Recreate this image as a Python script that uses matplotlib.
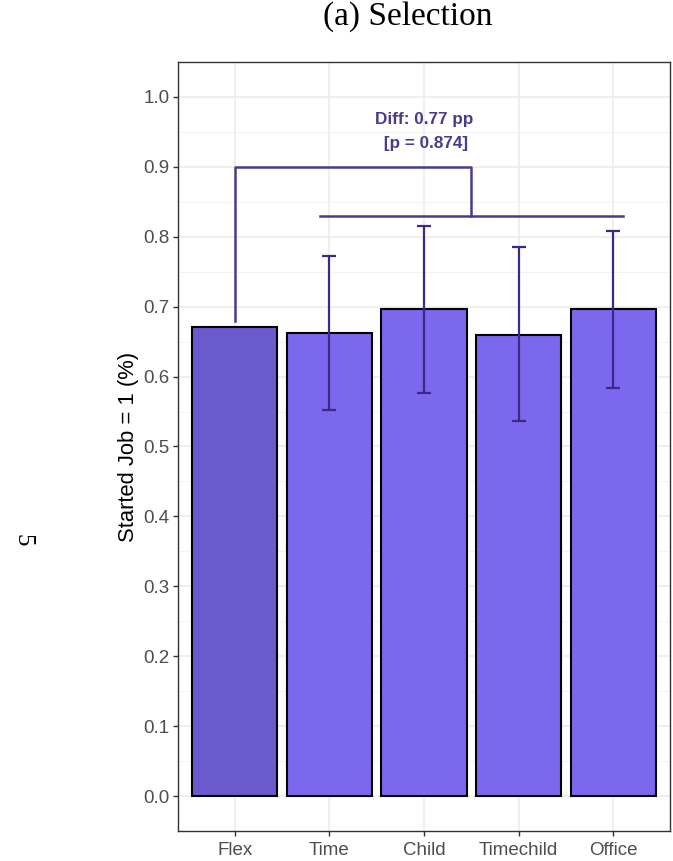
import matplotlib.pyplot as plt
from matplotlib.ticker import MultipleLocator
import numpy as np

groups = ["Flex", "Time", "Child", "Timechild", "Office"]
started = [0.671, 0.662, 0.697, 0.660, 0.697]
ci_low = [None, 0.552, 0.577, 0.536, 0.584]
ci_high = [None, 0.773, 0.815, 0.785, 0.808]
bar_colors = ["#6A5ACD", "#7B68EE", "#7B68EE", "#7B68EE", "#7B68EE"]

diff_pp = 0.77
p_value = 0.874

plt.rcParams["font.family"] = ["Liberation Sans", "DejaVu Sans"]

fig = plt.figure(figsize=(6.73, 8.61), dpi=100)
ax = fig.add_axes([178 / 673, 30 / 861, 492 / 673, 769 / 861])

x = np.arange(1, len(groups) + 1)
ax.bar(x, started, width=0.9, color=bar_colors, edgecolor="black",
       linewidth=1.5, zorder=3)

# confidence intervals for the treatment arms only
for xi, lo, hi, v in zip(x, ci_low, ci_high, started):
    if lo is None:
        continue
    ax.errorbar(xi, v, yerr=[[v - lo], [hi - v]], fmt="none",
                ecolor="#3A2A86", elinewidth=1.6, capsize=5, capthick=1.6,
                zorder=4)

# comparison bracket: Flex vs pooled treatments
br = "#483D8B"
top, low = 0.90, 0.83
ax.plot([1, 1, 3.5, 3.5], [started[0] + 0.009, top, top, low], color=br,
        lw=1.8, zorder=5)
ax.plot([1.9, 5.1], [low, low], color=br, lw=1.8, zorder=5)
ax.text(3.0, 0.95, f"Diff: {diff_pp:.2f} pp\n [p = {p_value:.3f}]",
        ha="center", va="center", color=br, fontsize=12.3, fontweight="bold",
        linespacing=1.75, zorder=6)

ax.set_xlim(0.4, 5.6)
ax.set_ylim(-0.05, 1.05)
ax.set_xticks(x)
ax.set_xticklabels(groups)
ax.yaxis.set_major_locator(MultipleLocator(0.1))
ax.yaxis.set_minor_locator(MultipleLocator(0.05))
ax.set_yticklabels([f"{v:.1f}" for v in ax.get_yticks()])
ax.set_ylim(-0.05, 1.05)

ax.grid(True, which="major", color="#EBEBEB", lw=1.1, zorder=0)
ax.grid(True, which="minor", axis="y", color="#F2F2F2", lw=0.7, zorder=0)
ax.tick_params(which="major", length=3.5, width=1, color="#333333",
               labelcolor="#4D4D4D", labelsize=13.5, pad=2.5)
ax.tick_params(axis="x", pad=4.5)
ax.tick_params(which="minor", length=0)
for s in ax.spines.values():
    s.set_color("#333333")
    s.set_linewidth(1)

ax.set_ylabel("Started Job = 1 (%)", fontsize=15.8, labelpad=3)

fig.text(408 / 673, 1 - 17 / 861, "(a) Selection", ha="center", va="center",
         fontsize=24, family="Liberation Serif")
fig.text(22 / 673, 1 - 540 / 861, "5", ha="center", va="center",
         fontsize=18, family="Liberation Serif", rotation=-90)

fig.savefig("out.png", dpi=100)
